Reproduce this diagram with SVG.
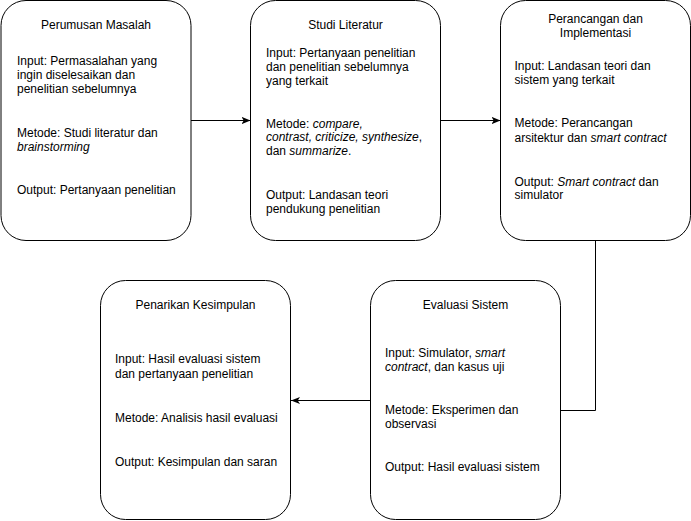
<svg xmlns="http://www.w3.org/2000/svg" width="691" height="521" viewBox="0 0 691 521">
<style>
.box{fill:#fff;stroke:#000;stroke-width:1}
.t{font-family:"Liberation Sans",Arial,sans-serif;font-size:12px;fill:#000}
.c{text-anchor:middle}
.i{font-style:italic}
.ln{fill:none;stroke:#000;stroke-width:1}
</style>
<defs>
<marker id="arr" viewBox="0 0 10 10" refX="10" refY="5" markerWidth="9" markerHeight="9" orient="auto" markerUnits="userSpaceOnUse">
<path d="M0,1 L10,5 L0,9 L2.5,5 Z" fill="#000"/>
</marker>
</defs>
<rect width="691" height="521" fill="#fff"/>
<g id="connectors">
<path class="ln" d="M191,120.5 L250.5,120.5" marker-end="url(#arr)"/>
<path class="ln" d="M440.5,120.5 L500.5,120.5" marker-end="url(#arr)"/>
<path class="ln" d="M595.5,240.5 L595.5,410.5 L560.5,410.5"/>
<path class="ln" d="M370.5,400.5 L291,400.5" marker-end="url(#arr)"/>
</g>
<g id="perumusan">
<rect class="box" x="1" y="0.5" width="190" height="240" rx="25" ry="25"/>
<text class="t c" x="96" y="29">Perumusan Masalah</text>
<text class="t" x="17" y="65">Input: Permasalahan yang</text>
<text class="t" x="17" y="79">ingin diselesaikan dan</text>
<text class="t" x="17" y="93">penelitian sebelumnya</text>
<text class="t" x="17" y="136.5">Metode: Studi literatur dan</text>
<text class="t i" x="17" y="150.5">brainstorming</text>
<text class="t" x="17" y="193.5">Output: Pertanyaan penelitian</text>
</g>
<g id="studi">
<rect class="box" x="250.5" y="0.5" width="190" height="240" rx="25" ry="25"/>
<text class="t c" x="345.5" y="29">Studi Literatur</text>
<text class="t" x="266" y="57.3">Input: Pertanyaan penelitian</text>
<text class="t" x="266" y="71">dan penelitian sebelumnya</text>
<text class="t" x="266" y="84.5">yang terkait</text>
<text class="t" x="266" y="127.5">Metode: <tspan class="i">compare,</tspan></text>
<text class="t" x="266" y="141"><tspan class="i">contrast, criticize, synthesize</tspan>,</text>
<text class="t" x="266" y="155">dan <tspan class="i">summarize</tspan>.</text>
<text class="t" x="266" y="199">Output: Landasan teori</text>
<text class="t" x="266" y="212.5">pendukung penelitian</text>
</g>
<g id="perancangan">
<rect class="box" x="500.5" y="0.5" width="190" height="240" rx="25" ry="25"/>
<text class="t c" x="595.5" y="23">Perancangan dan</text>
<text class="t c" x="595.5" y="37.3">Implementasi</text>
<text class="t" x="514.5" y="69.5">Input: Landasan teori dan</text>
<text class="t" x="514.5" y="83.5">sistem yang terkait</text>
<text class="t" x="514.5" y="127.3">Metode: Perancangan</text>
<text class="t" x="514.5" y="141.5">arsitektur dan <tspan class="i">smart contract</tspan></text>
<text class="t" x="514.5" y="185.5">Output: <tspan class="i">Smart contract</tspan> dan</text>
<text class="t" x="514.5" y="199">simulator</text>
</g>
<g id="evaluasi">
<rect class="box" x="370.5" y="280.5" width="190" height="239" rx="25" ry="25"/>
<text class="t c" x="465.5" y="308.5">Evaluasi Sistem</text>
<text class="t" x="385" y="356.5">Input: Simulator, <tspan class="i">smart</tspan></text>
<text class="t" x="385" y="370.5"><tspan class="i">contract</tspan>, dan kasus uji</text>
<text class="t" x="385" y="413.5">Metode: Eksperimen dan</text>
<text class="t" x="385" y="427.5">observasi</text>
<text class="t" x="385" y="470.5">Output: Hasil evaluasi sistem</text>
</g>
<g id="penarikan">
<rect class="box" x="100.5" y="280.5" width="190" height="239" rx="25" ry="25"/>
<text class="t c" x="195.5" y="309">Penarikan Kesimpulan</text>
<text class="t" x="115" y="363">Input: Hasil evaluasi sistem</text>
<text class="t" x="115" y="377.5">dan pertanyaan penelitian</text>
<text class="t" x="115" y="422">Metode: Analisis hasil evaluasi</text>
<text class="t" x="115" y="465.5">Output: Kesimpulan dan saran</text>
</g>
</svg>
